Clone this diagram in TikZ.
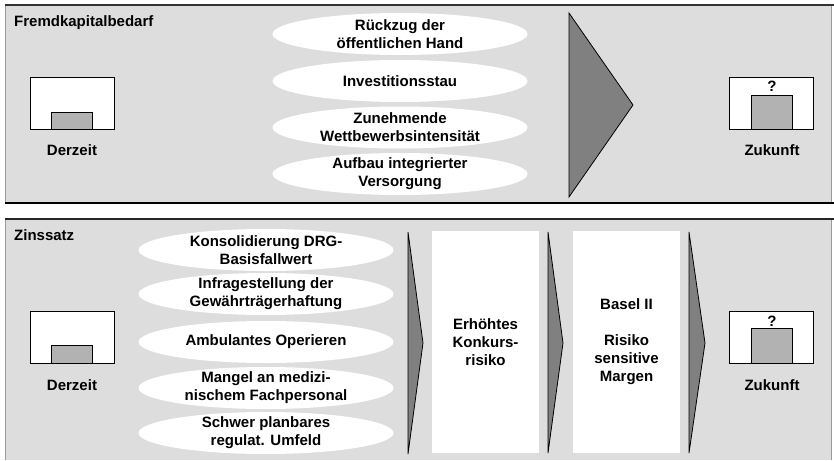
\documentclass[tikz,border=0pt]{standalone}
\usepackage{fontspec}
\setmainfont{Liberation Sans}
\usetikzlibrary{shapes.geometric}
\definecolor{panelgray}{HTML}{DDDDDD}
\definecolor{bargray}{HTML}{B2B2B2}
\definecolor{triggray}{HTML}{808080}
\definecolor{edgegray}{HTML}{9A9A9A}
\begin{document}
\begin{tikzpicture}[x=1pt,y=-1pt,
  font=\fontsize{15}{18}\selectfont\bfseries,
  ell/.style={ellipse, fill=white, minimum width=255pt, minimum height=42pt, inner sep=0pt},
  txt/.style={align=center, inner sep=0pt},
  frame/.style={draw=black, fill=white, line width=0.8pt, minimum width=84pt, minimum height=52pt, inner sep=0pt},
  bar/.style={draw=black, fill=bargray, line width=0.8pt, minimum width=41pt, inner sep=0pt, anchor=south},
  col/.style={fill=white, minimum width=107pt, minimum height=222pt, inner sep=0pt},
  tri/.style={fill=triggray, draw=black, line width=0.8pt, line join=miter},
  title/.style={anchor=base west, inner sep=0pt}
]
\useasboundingbox (0,0) rectangle (834,460);
\fill[white] (0,0) rectangle (834,460);
% panels
\fill[panelgray] (5,5) rectangle (831,203);
\draw[edgegray, line width=0.6pt] (5,5) -- (5,203) (831,5) -- (831,203);
\draw[black!80, line width=1.4pt] (5,5) -- (834,5);
\draw[black, line width=1.6pt] (5,203) -- (834,203);
\fill[panelgray] (5,219) rectangle (831,460);
\draw[edgegray, line width=0.6pt] (5,219) -- (5,460) (831,219) -- (831,460);
\draw[black!85, line width=1.4pt] (5,219) -- (834,219);

\node[title] (t1) at (14,26.5) {Fremdkapitalbedarf};
\node[title] (t2) at (14,240) {Zinssatz};

% panel 1 ellipses
\node[ell] (a1) at (400,34) {};
\node[txt] at (a1) {Rückzug der\\öffentlichen Hand};
\node[ell] (a2) at (400,81) {};
\node[txt] at (a2) {Investitionsstau};
\node[ell] (a3) at (400,127.5) {};
\node[txt] at (a3) {Zunehmende\\Wettbewerbsintensität};
\node[ell] (a4) at (400,174) {};
\node[txt] at (a4) {Aufbau integrierter\\Versorgung};

% panel 1 triangle
\draw[tri] (569,13) -- (633,105) -- (569,197) -- cycle;

% panel 1 boxes
\node[frame] (d1) at (72,103) {};
\node[bar, minimum height=17pt] (db1) at (d1.south) {};
\node[txt] (dl1) at (72,150) {Derzeit};
\node[frame] (z1) at (771,103) {};
\node[bar, minimum height=34pt] (zb1) at ([xshift=0.5pt]z1.south) {};
\node[txt] (zq1) at (772,86) {?};
\node[txt] (zl1) at (772,150) {Zukunft};

% panel 2 ellipses
\node[ell] (b1) at (266,250) {};
\node[txt] at (b1) {Konsolidierung DRG-\\Basisfallwert};
\node[ell] (b2) at (266,294) {};
\node[txt] at (b2) {Infragestellung der\\Gewährträgerhaftung};
\node[ell] (b3) at (266,342) {};
\node[txt] at (b3) {Ambulantes Operieren};
\node[ell] (b4) at (266,388) {};
\node[txt] at (b4) {Mangel an medizi-\\nischem Fachpersonal};
\node[ell] (b5) at (266,433) {};
\node[txt] at (b5) {Schwer planbares\\regulat. Umfeld};

% panel 2 arrows and columns
\draw[tri] (408,232) -- (423,343) -- (408,454) -- cycle;
\node[col] (c1) at (485.5,342) {};
\node[txt] at (c1) {Erhöhtes\\Konkurs-\\risiko};
\draw[tri] (548,232) -- (563,343) -- (548,453) -- cycle;
\node[col] (c2) at (626.5,342) {};
\node[txt] at (c2) {Basel II\\[18pt]Risiko\\sensitive\\Margen};
\draw[tri] (689,232) -- (705,343) -- (689,453) -- cycle;

% panel 2 boxes
\node[frame] (d2) at (72,337) {};
\node[bar, minimum height=18pt] (db2) at (d2.south) {};
\node[txt] (dl2) at (72,385) {Derzeit};
\node[frame] (z2) at (771,337.5) {};
\node[bar, minimum height=35pt] (zb2) at ([xshift=0.5pt]z2.south) {};
\node[txt] (zq2) at (772,321) {?};
\node[txt] (zl2) at (772,385) {Zukunft};
\end{tikzpicture}
\end{document}
